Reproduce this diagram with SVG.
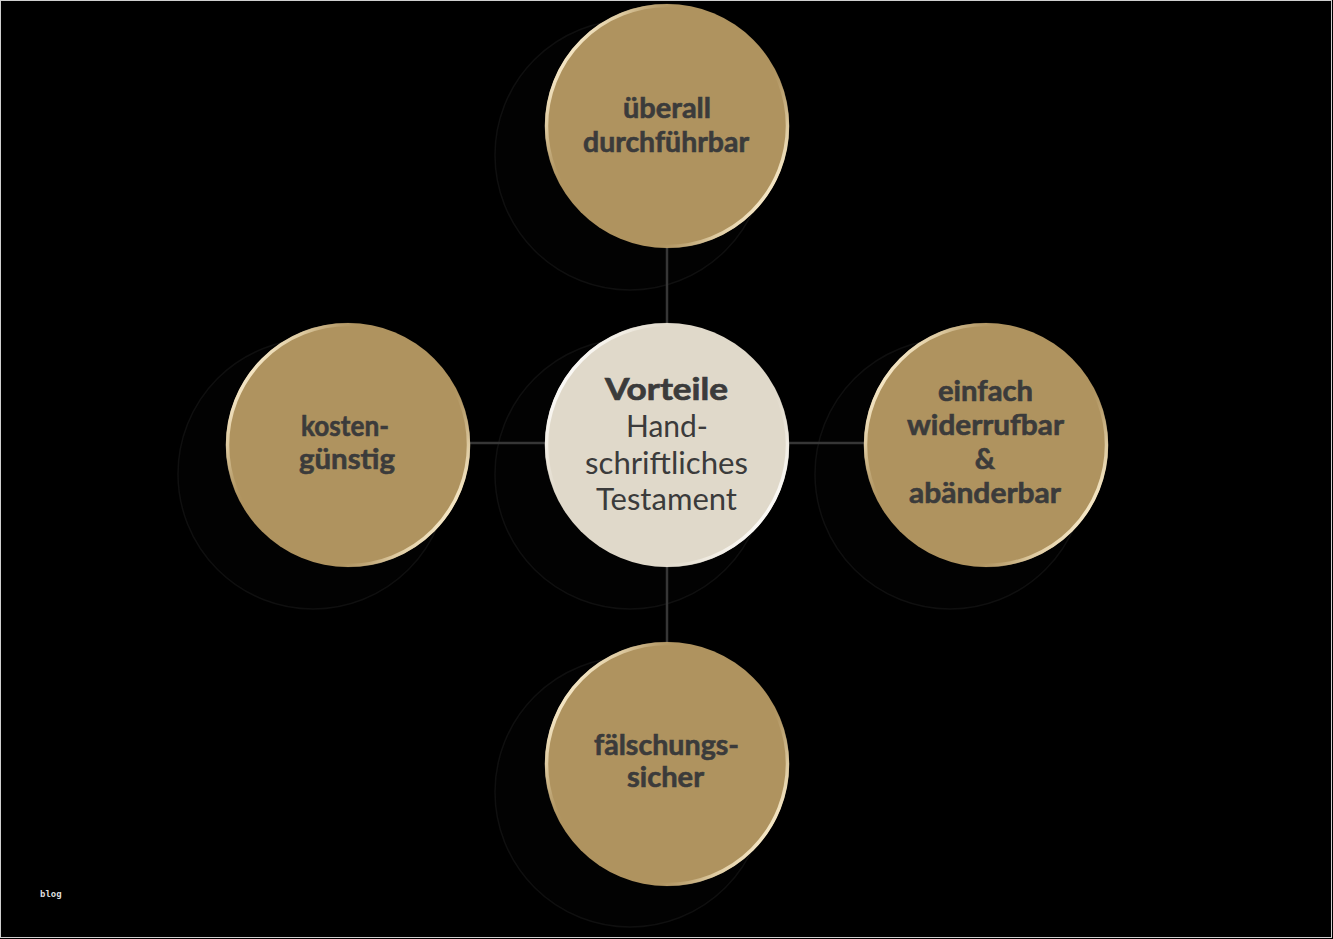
<svg xmlns="http://www.w3.org/2000/svg" width="1333" height="939" viewBox="0 0 1333 939">
<defs>
<linearGradient id="gloss" x1="0.05" y1="0.2" x2="0.95" y2="0.8">
<stop offset="0" stop-color="#fff3d6"/>
<stop offset="0.12" stop-color="#e8d6ae" stop-opacity="0.8"/>
<stop offset="0.3" stop-color="#b09461" stop-opacity="0"/>
<stop offset="0.7" stop-color="#b09461" stop-opacity="0"/>
<stop offset="0.88" stop-color="#e8d6ae" stop-opacity="0.8"/>
<stop offset="1" stop-color="#fff3d6"/>
</linearGradient>
<linearGradient id="glossC" x1="0.05" y1="0.2" x2="0.95" y2="0.8">
<stop offset="0" stop-color="#ffffff"/>
<stop offset="0.12" stop-color="#f6f2ea" stop-opacity="0.8"/>
<stop offset="0.3" stop-color="#e0d9ca" stop-opacity="0"/>
<stop offset="0.7" stop-color="#e0d9ca" stop-opacity="0"/>
<stop offset="0.88" stop-color="#f6f2ea" stop-opacity="0.8"/>
<stop offset="1" stop-color="#ffffff"/>
</linearGradient>
</defs>
<style>
.shadow{fill:#020202;stroke:#0f0f0f;stroke-width:1.5}
.gold{fill:#af935f}
.rim{fill:none;stroke:url(#gloss);stroke-width:3.5}
.rimC{fill:none;stroke:url(#glossC);stroke-width:3.5}
.center{fill:#e0d9ca}
.lbl{font-family:Lato,"Liberation Sans",sans-serif;font-weight:bold;font-size:28px;fill:#3b3b3b;stroke:#3b3b3b;stroke-width:0.6;text-anchor:middle}
.ctr{font-family:Lato,"Liberation Sans",sans-serif;font-size:30px;fill:#3b3b3b;text-anchor:middle}
.ctrb{font-weight:bold;stroke:#3b3b3b;stroke-width:0.7}
.conn{stroke:#363636;stroke-width:2.5;fill:none}
</style>
<rect x="0" y="0" width="1333" height="939" fill="#000"/>
<rect x="0.5" y="0.5" width="1331" height="937" fill="none" stroke="#cfcfcf" stroke-width="1"/>
<g id="shadows">
<circle class="shadow" cx="630" cy="155" r="135"/>
<circle class="shadow" cx="630" cy="474" r="135"/>
<circle class="shadow" cx="313" cy="474" r="135"/>
<circle class="shadow" cx="950" cy="474" r="135"/>
<circle class="shadow" cx="630" cy="792" r="135"/>
</g>
<g id="connectors">
<line class="conn" x1="667" y1="248" x2="667" y2="323"/>
<line class="conn" x1="667" y1="567" x2="667" y2="642"/>
<line class="conn" x1="470" y1="443" x2="545" y2="443"/>
<line class="conn" x1="789" y1="443" x2="864" y2="443"/>
</g>
<g id="node-top">
<circle class="gold" cx="667" cy="126" r="122"/>
<circle class="rim" cx="667" cy="126" r="120.5"/>
<text class="lbl" x="667" y="118" textLength="88" lengthAdjust="spacingAndGlyphs">überall</text>
<text class="lbl" x="666" y="152" textLength="166" lengthAdjust="spacingAndGlyphs">durchführbar</text>
</g>
<g id="node-center">
<circle class="center" cx="667" cy="445" r="122"/>
<circle class="rimC" cx="667" cy="445" r="120.5"/>
<text class="ctr ctrb" x="666.5" y="400" textLength="123" lengthAdjust="spacingAndGlyphs">Vorteile</text>
<text class="ctr" x="667" y="437" textLength="82" lengthAdjust="spacingAndGlyphs">Hand-</text>
<text class="ctr" x="666.5" y="474" textLength="163" lengthAdjust="spacingAndGlyphs">schriftliches</text>
<text class="ctr" x="666.5" y="510" textLength="141" lengthAdjust="spacingAndGlyphs">Testament</text>
</g>
<g id="node-left">
<circle class="gold" cx="348" cy="445" r="122"/>
<circle class="rim" cx="348" cy="445" r="120.5"/>
<text class="lbl" x="345" y="436" textLength="88" lengthAdjust="spacingAndGlyphs">kosten-</text>
<text class="lbl" x="347" y="469" textLength="96" lengthAdjust="spacingAndGlyphs">günstig</text>
</g>
<g id="node-right">
<circle class="gold" cx="986" cy="445" r="122"/>
<circle class="rim" cx="986" cy="445" r="120.5"/>
<text class="lbl" x="985.5" y="401" textLength="95" lengthAdjust="spacingAndGlyphs">einfach</text>
<text class="lbl" x="985.5" y="435" textLength="157" lengthAdjust="spacingAndGlyphs">widerrufbar</text>
<text class="lbl" x="985" y="469">&amp;</text>
<text class="lbl" x="985" y="503" textLength="152" lengthAdjust="spacingAndGlyphs">abänderbar</text>
</g>
<g id="node-bottom">
<circle class="gold" cx="667" cy="764" r="122"/>
<circle class="rim" cx="667" cy="764" r="120.5"/>
<text class="lbl" x="666.5" y="755" textLength="145" lengthAdjust="spacingAndGlyphs">fälschungs-</text>
<text class="lbl" x="665.5" y="787" textLength="77" lengthAdjust="spacingAndGlyphs">sicher</text>
</g>
<text x="40" y="897" font-family="'DejaVu Sans Mono',monospace" font-size="9" font-weight="bold" fill="#dddddd">blog</text>
</svg>
